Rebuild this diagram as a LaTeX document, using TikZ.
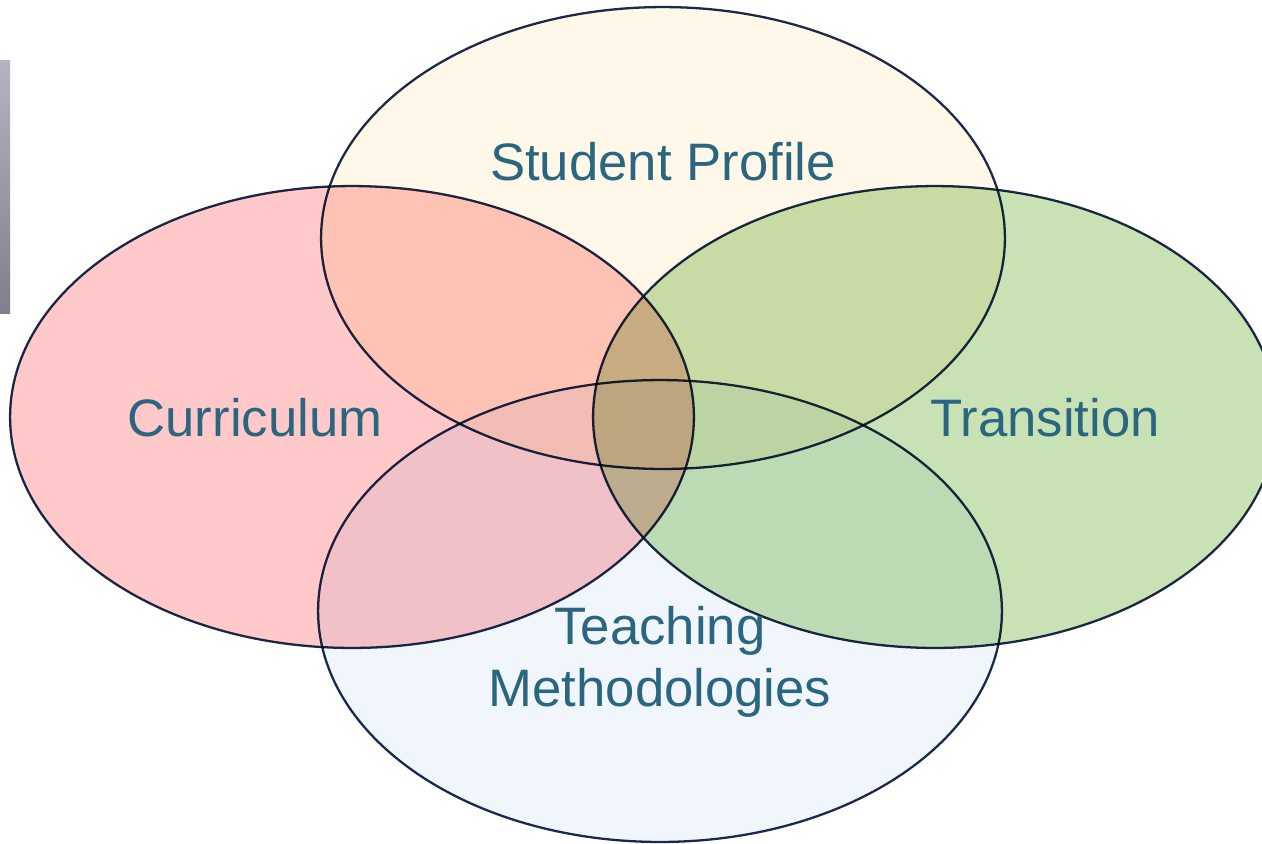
\documentclass[tikz,border=0pt]{standalone}
\usepackage{fontspec}
\setmainfont{Liberation Sans}
\usetikzlibrary{shapes.geometric}
\definecolor{outline}{HTML}{1B2A4E}
\definecolor{labeltxt}{HTML}{2A6680}
\definecolor{currFill}{HTML}{FFC9C9}
\definecolor{profFill}{HTML}{FFF8E8}
\definecolor{tranFill}{HTML}{C8E2B6}
\definecolor{teachFill}{HTML}{F0F6FC}
\definecolor{barTop}{HTML}{B4B4C4}
\definecolor{barBot}{HTML}{7E7E8E}
\tikzset{
  circle set/.style={ellipse, draw=outline, line width=1.3pt, minimum width=13.68cm,
                     minimum height=9.24cm, inner sep=0pt, blend mode=multiply},
  set label/.style={font=\fontsize{30}{35}\selectfont, text=labeltxt, align=center}
}
\begin{document}
\begin{tikzpicture}[x=0.02cm,y=-0.02cm]
  \useasboundingbox (0,0) rectangle (1262,843);
  \clip (0,0) rectangle (1262,843);
  % side bar
  \shade[top color=barTop, bottom color=barBot] (0,60) rectangle (10,313);
  % the four sets
  \node[circle set, fill=currFill] (curr) at (352,417) {};
  \node[circle set, fill=profFill] (prof) at (663,238) {};
  \node[circle set, fill=tranFill] (tran) at (935,417) {};
  \node[circle set, fill=teachFill] (teach) at (660,611) {};
  % labels
  \node[set label] (profTxt) at (663,162) {Student Profile};
  \node[set label] (currTxt) at (255,418) {Curriculum};
  \node[set label] (tranTxt) at (1045,418) {Transition};
  \node[set label] (teachTxt) at (660,662) {Teaching\\Methodologies};
\end{tikzpicture}
\end{document}
